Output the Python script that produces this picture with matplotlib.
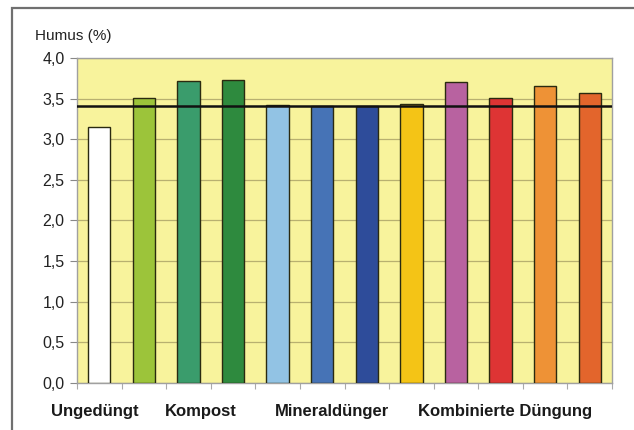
import numpy as np
import matplotlib
matplotlib.use("Agg")
import matplotlib.pyplot as plt
from matplotlib.patches import Rectangle

plt.rcParams['font.family'] = ['Liberation Sans', 'DejaVu Sans']

# Humus content per treatment (%)
humus = [3.15, 3.51, 3.72, 3.73, 3.42, 3.41, 3.41, 3.43, 3.70, 3.51, 3.66, 3.57]
bar_colors = ['#FFFFFF', '#9CC43A', '#3A9C6C', '#2E8A3E', '#92C3E4', '#4673B6',
              '#2E4C9A', '#F4C416', '#B862A0', '#DE3434', '#EE9236', '#E3652C']
reference_level = 3.41

groups = ['Ungedüngt', 'Kompost', 'Mineraldünger', 'Kombinierte Düngung']
group_pos = [-0.1, 2.28, 5.22, 9.1]

yticks = [0.0, 0.5, 1.0, 1.5, 2.0, 2.5, 3.0, 3.5, 4.0]
ytick_labels = [f"{v:.1f}".replace('.', ',') for v in yticks]

W, H = 634, 430
fig = plt.figure(figsize=(W / 100, H / 100), dpi=100)
ax = fig.add_axes([77 / W, (H - 383) / H, 535 / W, 325 / H])

# outer frame (runs off the right and bottom edge)
fig.patches.append(Rectangle((12 / W, -0.05), 1.1, (H - 8) / H + 0.05,
                             transform=fig.transFigure, fill=False,
                             edgecolor='#707070', linewidth=1.6))

ax.set_facecolor('#F8F39C')
x = np.arange(len(humus))
ax.bar(x, humus, width=0.5, color=bar_colors, edgecolor='#2A2A10',
       linewidth=1.0, zorder=3)
ax.axhline(reference_level, color='#111111', linewidth=1.8, zorder=4)

ax.set_xlim(-0.5, len(humus) - 0.5)
ax.set_ylim(0, 4.0)
ax.yaxis.grid(True, color='#B8B070', linewidth=0.9, zorder=0)
ax.set_axisbelow(True)

ax.set_yticks(yticks)
ax.set_yticklabels(ytick_labels, fontsize=11.5, color='#222222')
ax.tick_params(axis='y', length=5, color='#888888', pad=4)
ax.set_xticks(np.arange(-0.5, len(humus), 1.0))
ax.set_xticklabels([])
ax.tick_params(axis='x', length=4, color='#AAAAAA')

for s in ax.spines.values():
    s.set_color('#A0A0A0')
    s.set_linewidth(1.0)

for name, pos in zip(groups, group_pos):
    ax.text(pos, -0.35, name, ha='center', va='center', fontsize=12,
            fontweight='bold', color='#1A1A1A')

fig.text(35 / W, 1 - 36 / H, 'Humus (%)', ha='left', va='center',
         fontsize=11, color='#222222')

fig.savefig('out.png', dpi=100)
